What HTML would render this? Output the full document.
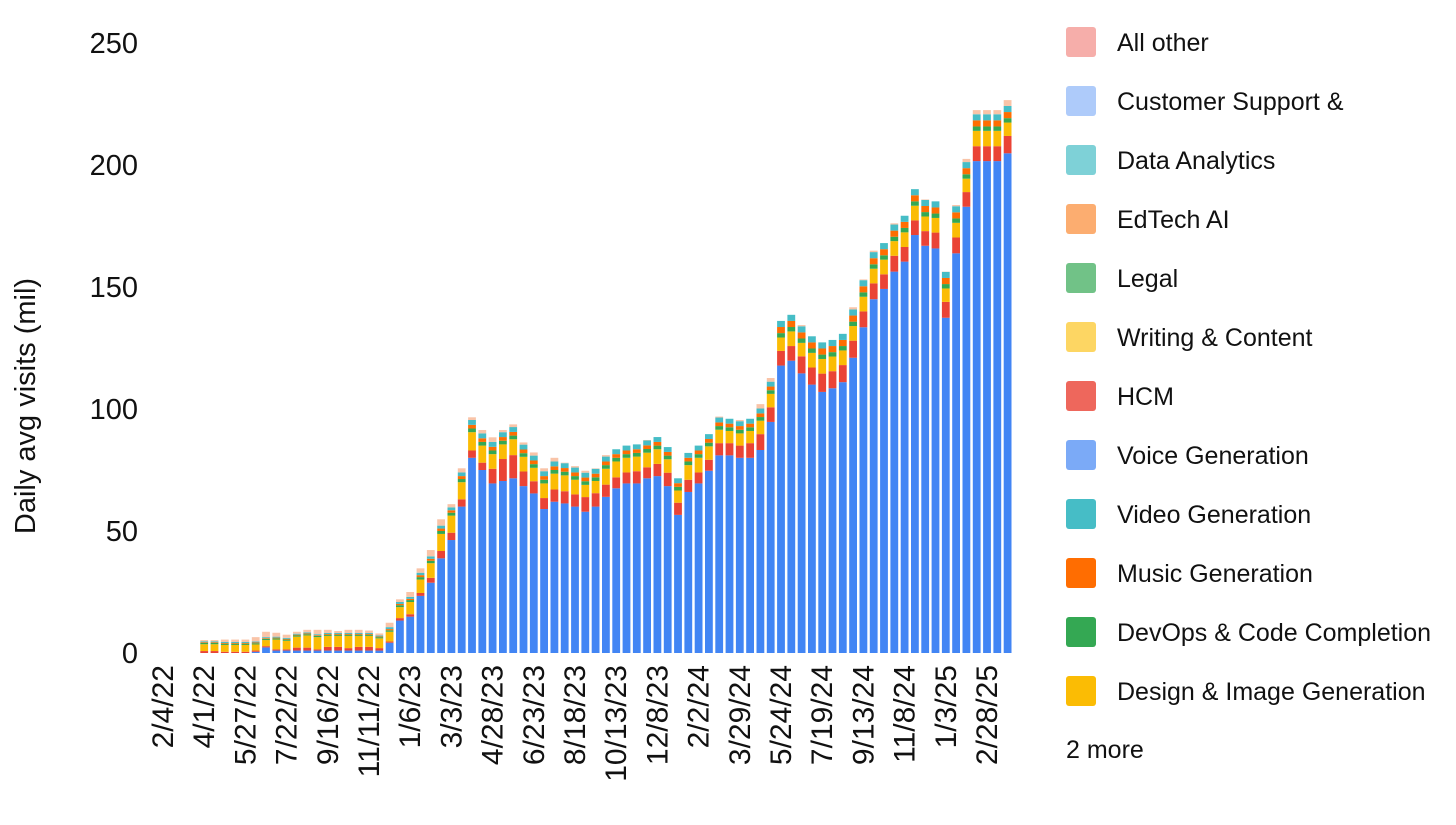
<!DOCTYPE html>
<html><head><meta charset="utf-8">
<style>
html,body{margin:0;padding:0;background:#fff;}
body{width:1456px;height:820px;overflow:hidden;font-family:"Liberation Sans",Arial,sans-serif;}
svg text{font-family:"Liberation Sans",Arial,sans-serif;fill:#111;}
</style></head>
<body>
<svg id="chart" width="1456" height="820" viewBox="0 0 1456 820" xmlns="http://www.w3.org/2000/svg">
  <g id="yaxis"></g>
  <g id="xaxis"></g>
  <g id="bars"></g>
  <g id="legend"></g>
  <text transform="translate(35,406) rotate(-90)" text-anchor="middle" font-size="29">Daily avg visits (mil)</text>
</svg>
<script>
const tickLabels = ["2/4/22","4/1/22","5/27/22","7/22/22","9/16/22","11/11/22","1/6/23","3/3/23","4/28/23","6/23/23","8/18/23","10/13/23","12/8/23","2/2/24","3/29/24","5/24/24","7/19/24","9/13/24","11/8/24","1/3/25","2/28/25"];
const yTicks = [0,50,100,150,200,250];
const totals = [5.3,5.3,5.5,5.5,5.5,6.5,8.7,8.3,7.5,8.7,9.5,9.5,9.5,9,9.5,9.5,9.2,8,
 12.4,22,25,34.7,42.2,54.8,61,75.7,96.6,91.4,88.4,91.4,93.7,86.3,82.2,75.7,80,78,76.6,74.7,75.7,
 81.1,83.2,84.3,85.2,87.3,88.4,83.9,71.6,81.8,83.9,89.3,96.9,95.8,95.5,95.8,102,112.7,135.4,138.5,134.4,
 129.4,127.2,128,130.3,141.7,153.1,164.9,167.9,176.1,179.2,190,185.9,184.6,156.3,183.6,202.5,222.5,222.5,222.5,226.6];
const seriesBlue = [0,0,0,0,0,0.5,2.3,1,1,1,1,1,1,1,1,1,1,1,
 4.2,13.3,14.9,23.4,28.8,38.8,46.3,60,80,75,69.5,70.5,71.6,68.4,65.4,59,62,61.3,60,57.9,60,
 64,67.5,69.5,69.5,71.6,72.5,68.4,56.6,66,69.5,74.7,81,81,80,80,83.2,94.7,117.8,119.8,114.6,
 110,107,108.5,111,121,133.5,145,149.2,156.3,160.4,171.3,166.9,165.8,137.4,163.8,182.9,201.6,201.6,201.6,204.8];
const seriesRed = [0.8,0.8,0.5,0.5,0.5,0.5,0.5,0.5,0.5,1.2,1.2,0.5,1.5,1.5,1,1.5,1.5,1,
 0.5,1,1,1.2,2,3,3,3,3,3,6,9,9.5,6,5,4.5,5,5,5,6,5.5,
 5,4.5,4.5,5,4.5,5,5.5,5,5,4.5,4.5,5,5,5,6,6.5,6,6,6,7,
 7,7.5,7,7,7,6.5,6.5,6,6.5,6,6,6,6.5,6.5,6.5,6,6.1,6.1,6.1,7.1];
const designImage = [2.8,2.8,2.8,2.8,2.8,2.5,2.5,4,3.5,4.5,5,5,4.5,4.5,5,4.5,4.5,4,
 4,4.5,5,5.5,6,7,7,7,7.5,7,6,6,6.5,6,5.5,6,6.5,6.5,6,5,5,
 6.5,6.5,6,6,6,6,5.5,5,6,6,5.5,5.5,5,5,5,5.5,5.5,5.5,6,5.5,
 6,6,6,6,6,6,6,6,6,6,6,6,6,5.5,6,5.5,6.3,6.3,6.3,5.5];
const devOps = [0.5,0.5,0.5,0.5,0.5,0.5,0.5,0.5,0.5,0.5,0.5,0.5,0.5,0.5,0.5,0.5,0.5,0.5,
 0.6,0.8,0.8,1,1,1.2,1.2,1.3,1.5,1.5,1.5,1.5,1.5,1.5,1.5,1.5,1.5,1.5,1.5,1.5,1.5,
 1.5,1.5,1.5,1.5,1.5,1.5,1.5,1.5,1.5,1.5,1.5,1.5,1.5,1.5,1.5,1.5,1.5,1.8,1.8,1.8,
 1.8,1.8,1.8,1.8,1.8,1.8,1.8,1.8,1.8,1.8,1.8,1.8,1.8,1.8,1.8,1.8,1.8,1.8,1.8,1.8];
const musicGen = [0.3,0.3,0.3,0.3,0.3,0.3,0.3,0.3,0.3,0.3,0.3,0.3,0.3,0.3,0.3,0.3,0.3,0.3,
 0.5,0.5,0.5,0.8,0.8,1,1,1.2,1.5,1.5,1.5,1.5,1.5,1.5,1.5,1.5,1.5,1.5,1.5,1.5,1.5,
 1.5,1.5,1.5,1.5,1.5,1.5,1.5,1.5,1.5,1.5,1.5,1.5,1.5,1.5,1.5,1.5,1.5,2.5,2.5,2.5,
 2.5,2.5,2.5,2.5,2.5,2.5,2.5,2.5,2.5,2.5,2.5,2.5,2.5,2.5,2.5,2.5,2.5,2.5,2.5,2.5];
const videoGen = [0.4,0.4,0.4,0.4,0.4,0.4,0.4,0.4,0.4,0.4,0.4,0.4,0.4,0.4,0.4,0.4,0.4,0.4,
 0.8,0.8,0.8,1,1,1.2,1.2,1.5,2,2,2,2,2,2,2,2,2,2,2,2,2,
 2,2,2,2,2,2,2,2,2,2,2,2,2,2,2,2,2,2.5,2.5,2.5,
 2.5,2.5,2.5,2.5,2.5,2.5,2.5,2.5,2.5,2.5,2.5,2.5,2.5,2.5,2.5,2.5,2.5,2.5,2.5,2.5];
const legendNames = ["All other","Customer Support &","Data Analytics","EdTech AI","Legal","Writing & Content","HCM","Voice Generation","Video Generation","Music Generation","DevOps & Code Completion","Design & Image Generation"];
const legendColors = ["#f6aeaa","#aecbfa","#7ed1d7","#fcad70","#71c287","#fdd663","#ee675c","#7baaf7","#46bdc6","#ff6d01","#34a853","#fbbc04"];

const NS="http://www.w3.org/2000/svg";
const plotTop=43, plotBottom=653, yMax=250;
const slotW=10.3, slotX0=157.85, startSlot=4, barW=7.8;
function y(v){return plotBottom-(v/yMax)*(plotBottom-plotTop);}
function slotCenter(i){return slotX0+(i+0.5)*slotW;}
function mk(tag,attrs,parent){const e=document.createElementNS(NS,tag);for(const k in attrs)e.setAttribute(k,attrs[k]);parent.appendChild(e);return e;}

const yg=document.getElementById('yaxis');
yTicks.forEach(t=>{
  const e=mk('text',{x:138,y:y(t)+10,'text-anchor':'end','font-size':29},yg);
  
  
  e.textContent=t;
});
const xg=document.getElementById('xaxis');
tickLabels.forEach((t,k)=>{
  const cx=slotCenter(k*4)+10;
  const e=mk('text',{transform:`translate(${cx},665) rotate(-90)`,'text-anchor':'end','font-size':30},xg);
  
  
  e.textContent=t;
});
const bg=document.getElementById('bars');
totals.forEach((tot,i)=>{
  const segs=[[seriesBlue[i],'#4285f4'],[seriesRed[i],'#ea4335'],[designImage[i],'#fbbc04'],[devOps[i],'#34a853'],[musicGen[i],'#ff6d01'],[videoGen[i],'#46bdc6']];
  let sum=segs.reduce((a,s)=>a+s[0],0);
  segs.push([Math.max(0,tot-sum),'#f9c4a8']);
  const g=mk('g',{},bg);
  
  
  let acc=0;const cx=slotCenter(startSlot+i);
  segs.forEach(s=>{
    if(s[0]<=0)return;
    const r=mk('rect',{x:cx-barW/2,y:y(acc+s[0]),width:barW,height:y(acc)-y(acc+s[0]),fill:s[1]},g);
    
    
    acc+=s[0];
  });
});
const lg=document.getElementById('legend');
legendNames.forEach((n,i)=>{
  const g=mk('g',{},lg);
  
  
  const yy=27+i*59;
  const r=mk('rect',{x:1066,y:yy,width:30,height:30,rx:3,fill:legendColors[i]},g);
  
  
  const t=mk('text',{x:1117,y:yy+24,'font-size':25},g);
  
  
  t.textContent=n;
});
const more=mk('text',{x:1066,y:758,'font-size':25},lg);


more.textContent="2 more";
</script>
</body></html>
